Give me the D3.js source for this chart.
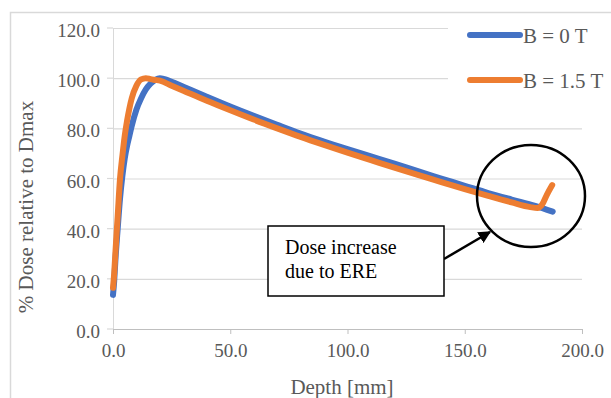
<!DOCTYPE html>
<html lang="en">
<head>
    <meta charset="UTF-8">
    <title>Depth dose curves</title>
    <script src="https://d3js.org/d3.v7.min.js"></script>
    <style>
        body { margin: 0; padding: 0; background: #fff; }
    </style>
</head>
<body>
    <svg id="chart"></svg>
    <script>
        // values
        const depthB0 = [0, 0.5, 1, 2, 3, 4, 5, 6, 7, 8, 10, 12, 14, 16, 18, 20, 22, 25, 30, 40, 50, 60, 70, 80, 90, 100, 110, 120, 130, 140, 150, 160, 170, 180, 187.5];
        const doseB0 = [13.6, 19, 27, 40, 52, 61, 68, 73, 77, 81, 87.5, 92, 95.5, 97.8, 99.3, 100, 99.6, 98.6, 96.6, 92.6, 88.7, 85, 81.4, 77.9, 74.7, 71.7, 68.8, 65.9, 62.9, 60, 57.1, 54.2, 51.6, 49.1, 46.8];
        const depthB15 = [0, 0.5, 1, 2, 3, 4, 5, 6, 7, 8, 10, 12, 14, 16, 18, 20, 25, 30, 40, 50, 60, 70, 80, 90, 100, 110, 120, 130, 140, 150, 160, 170, 178, 181, 183, 185, 187.3];
        const doseB15 = [16.4, 22, 30, 45, 60, 69, 77, 83, 88, 92, 97, 99.5, 100, 99.6, 99.3, 99, 97, 95, 91, 87.2, 83.5, 80, 76.6, 73.4, 70.3, 67.3, 64.3, 61.4, 58.6, 55.8, 53.1, 50.5, 48.6, 48.2, 49.6, 53.5, 57.4];
        const seriesNames = ["B = 0 T", "B = 1.5 T"];
        const seriesColors = ["#4472C4", "#ED7D31"];
        const xTicks = [0, 50, 100, 150, 200];
        const yTicks = [0, 20, 40, 60, 80, 100, 120];
        const noteLines = ["Dose increase", "due to ERE"];

        const FONT = '"Times New Roman", Times, "Liberation Serif", "DejaVu Serif", serif';
        const W = 611, H = 398;
        const svg = d3.select("#chart").attr("width", W).attr("height", H);

        const x = d3.scaleLinear().domain([0, 200]).range([113, 582]);
        const y = d3.scaleLinear().domain([0, 120]).range([329, 28]);

        // outer frame (only top + left edges show in the picture)
        svg.append("path")
            .attr("d", `M10.5,${H} V12.5 H${W}`)
            .attr("fill", "none")
            .attr("stroke", "#d9d9d9")
            .attr("stroke-width", 1.5);

        // gridlines + y ticks
        svg.append("g")
            .attr("transform", `translate(${x(0)},0)`)
            .call(d3.axisLeft(y).tickValues(yTicks).tickSize(-(x(200) - x(0))).tickSizeOuter(0).tickFormat(d3.format(".1f")).tickPadding(13))
            .call(g => g.select(".domain").attr("stroke", "#d9d9d9"))
            .call(g => g.selectAll(".tick line").attr("stroke", "#d9d9d9").attr("stroke-width", 1.2))
            .call(g => g.selectAll(".tick text").attr("font-size", 19).attr("dy", "0.45em"));

        // y tick stubs to the left of the axis
        svg.append("g")
            .selectAll("line")
            .data(yTicks)
            .join("line")
            .attr("x1", x(0) - 6).attr("x2", x(0))
            .attr("y1", d => y(d)).attr("y2", d => y(d))
            .attr("stroke", "#d9d9d9").attr("stroke-width", 1.2);

        svg.append("g")
            .attr("transform", `translate(0,${y(0)})`)
            .call(d3.axisBottom(x).tickValues(xTicks).tickSize(5).tickSizeOuter(0).tickFormat(d3.format(".1f")).tickPadding(10))
            .call(g => g.select(".domain").attr("stroke", "#bfbfbf").attr("stroke-width", 1.2))
            .call(g => g.selectAll(".tick line").attr("stroke", "#bfbfbf"))
            .call(g => g.selectAll(".tick text").attr("font-size", 19));

        // axis titles
        svg.append("text")
            .attr("x", 342).attr("y", 394)
            .attr("text-anchor", "middle")
            .attr("font-size", 21)
            .text("Depth [mm]");

        svg.append("text")
            .attr("transform", "translate(33,207) rotate(-90)")
            .attr("text-anchor", "middle")
            .attr("font-size", 21)
            .text("% Dose relative to Dmax");

        // curves
        const line = d3.line()
            .x(d => x(d[0]))
            .y(d => y(d[1]))
            .curve(d3.curveMonotoneX);

        const series = [
            d3.zip(depthB0, doseB0),
            d3.zip(depthB15, doseB15)
        ];

        svg.selectAll("path.curve")
            .data(series)
            .join("path")
            .attr("class", "curve")
            .attr("d", line)
            .attr("fill", "none")
            .attr("stroke", (d, i) => seriesColors[i])
            .attr("stroke-width", 6)
            .attr("stroke-linecap", "round")
            .attr("stroke-linejoin", "round");

        // legend
        svg.append("rect")
            .attr("x", 448).attr("y", 16).attr("width", 160).attr("height", 90)
            .attr("fill", "#fff");

        const lg = svg.selectAll("g.lg")
            .data(seriesNames)
            .join("g")
            .attr("class", "lg")
            .attr("transform", (d, i) => `translate(470,${35 + i * 45})`);
        lg.append("line")
            .attr("x1", 0).attr("x2", 50)
            .attr("stroke", (d, i) => seriesColors[i])
            .attr("stroke-width", 6)
            .attr("stroke-linecap", "round");
        lg.append("text")
            .attr("x", 53).attr("y", 8)
            .attr("font-size", 21)
            .text(d => d);

        // annotation: circle, box, arrow
        svg.append("ellipse")
            .attr("cx", 531).attr("cy", 196).attr("rx", 54).attr("ry", 51)
            .attr("fill", "none")
            .attr("stroke", "#000")
            .attr("stroke-width", 2.5);

        svg.append("defs").append("marker")
            .attr("id", "arrow")
            .attr("viewBox", "0 0 10 10")
            .attr("refX", 9).attr("refY", 5)
            .attr("markerWidth", 5).attr("markerHeight", 5)
            .attr("orient", "auto")
            .append("path")
            .attr("d", "M0,0 L10,5 L0,10 z")
            .attr("fill", "#000");

        svg.append("line")
            .attr("x1", 444).attr("y1", 259)
            .attr("x2", 490).attr("y2", 232)
            .attr("stroke", "#000")
            .attr("stroke-width", 2.5)
            .attr("marker-end", "url(#arrow)");

        svg.append("rect")
            .attr("x", 268).attr("y", 226).attr("width", 176).attr("height", 70)
            .attr("fill", "#fff")
            .attr("stroke", "#000")
            .attr("stroke-width", 1.5);

        svg.append("text")
            .attr("class", "note")
            .attr("x", 285).attr("y", 254)
            .attr("font-size", 20)
            .selectAll("tspan")
            .data(noteLines)
            .join("tspan")
            .attr("x", 285)
            .attr("dy", (d, i) => i ? 24 : 0)
            .text(d => d);

        // all text in the serif face, grey except the note
        svg.selectAll("g").attr("font-family", FONT);
        svg.selectAll("text")
            .attr("font-family", FONT)
            .attr("fill", "#595959");
        svg.select("text.note").attr("fill", "#000");
    </script>
</body>
</html>
